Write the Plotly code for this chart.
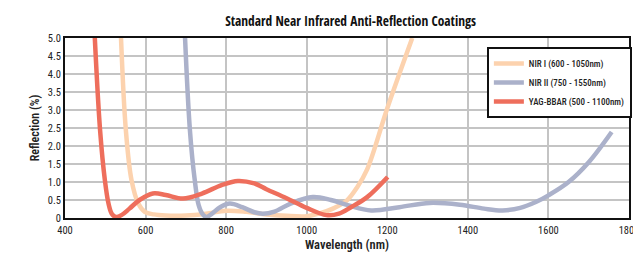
import plotly.graph_objects as go

# NIR I (600 - 1050nm)
nir1_x = [539, 551, 565, 582, 598, 620, 650, 700, 750, 800, 850, 900, 950, 1000, 1030, 1065, 1100, 1125, 1150, 1200, 1262]
nir1_y = [5.0, 2.45, 1.06, 0.40, 0.17, 0.10, 0.07, 0.07, 0.12, 0.20, 0.17, 0.10, 0.06, 0.05, 0.12, 0.26, 0.49, 0.85, 1.35, 3.05, 5.0]

# NIR II (750 - 1550nm)
nir2_x = [698, 710, 722, 732, 742, 751, 765, 785, 809, 840, 870, 891, 920, 960, 1015, 1060, 1104, 1160, 1230, 1305, 1380, 1440, 1486, 1530, 1570, 1600, 1650, 1700, 1757]
nir2_y = [5.0, 2.45, 1.06, 0.35, 0.10, 0.03, 0.12, 0.30, 0.40, 0.30, 0.16, 0.12, 0.18, 0.40, 0.58, 0.50, 0.35, 0.21, 0.30, 0.42, 0.37, 0.26, 0.21, 0.28, 0.45, 0.63, 1.00, 1.55, 2.39]

# YAG-BBAR (500 - 1100nm)
yag_x = [474, 487, 499, 508, 516, 526, 540, 560, 585, 618, 650, 693, 740, 790, 829, 870, 900, 950, 1000, 1049, 1080, 1110, 1150, 1201]
yag_y = [5.0, 2.45, 1.05, 0.40, 0.12, 0.03, 0.08, 0.26, 0.50, 0.68, 0.64, 0.54, 0.68, 0.92, 1.03, 0.96, 0.80, 0.55, 0.28, 0.08, 0.12, 0.30, 0.58, 1.14]

x_ticks = [400, 600, 800, 1000, 1200, 1400, 1600, 1800]
y_ticks = [0, 0.5, 1.0, 1.5, 2.0, 2.5, 3.0, 3.5, 4.0, 4.5, 5.0]
y_tick_text = ["0", "0.5", "1.0", "1.5", "2.0", "2.5", "3.0", "3.5", "4.0", "4.5", "5.0"]

FONT = "Roboto Condensed, Open Sans Condensed, DejaVu Sans Condensed, sans-serif"
TITLE_FONT = "Open Sans Condensed, Roboto Condensed, sans-serif"

fig = go.Figure()
series = [
    ("NIR I (600 - 1050nm)", nir1_x, nir1_y, "#FCD2AE"),
    ("NIR II (750 - 1550nm)", nir2_x, nir2_y, "#ABB1CA"),
    ("YAG-BBAR (500 - 1100nm)", yag_x, yag_y, "#EE6E5C"),
]
for name, xs, ys, col in series:
    fig.add_trace(go.Scatter(
        x=xs, y=ys, name=name, mode="lines",
        line=dict(color=col, width=4.5, shape="spline", smoothing=1.0),
    ))

# the page body adds an 8 px offset, so the figure is sized to fit the 641x255 window
fig.update_layout(
    width=633, height=247,
    margin=dict(l=57, r=12, t=30, b=37, autoexpand=False),
    paper_bgcolor="white", plot_bgcolor="white",
    font=dict(family=FONT, color="#222222"),
    title=dict(text="<b>Standard Near Infrared Anti-Reflection Coatings</b>",
               x=0.5413, xanchor="center", y=0.945, yanchor="middle",
               font=dict(size=13.4, color="#111111", family=TITLE_FONT)),
    legend=dict(x=0.748, xanchor="left", y=0.95, yanchor="top",
                bgcolor="white", bordercolor="#111111", borderwidth=2,
                font=dict(size=9, family=FONT, color="#222222", weight=500),
                itemwidth=30, tracegroupgap=0),
    showlegend=True,
)
fig.update_xaxes(
    range=[400, 1800], tickvals=x_ticks, showgrid=True, gridcolor="#C4C4C4", gridwidth=2,
    showline=True, linecolor="#111111", linewidth=2, mirror=True, zeroline=False,
    tickfont=dict(size=10.5, family=FONT), ticks="", automargin=False, ticklabelstandoff=1,
    title=dict(text="Wavelength (nm)", font=dict(size=12.5, family=FONT, weight=600), standoff=3),
)
fig.update_yaxes(
    range=[0, 5], tickvals=y_ticks, ticktext=y_tick_text, showgrid=True, gridcolor="#C4C4C4", gridwidth=2,
    showline=True, linecolor="#111111", linewidth=2, mirror=True, zeroline=False,
    tickfont=dict(size=10.5, family=FONT), ticks="", automargin=False,
    title=dict(text="Reflection (%)", font=dict(size=12, family=FONT, weight=600), standoff=6),
)

fig.write_html("out.html")
